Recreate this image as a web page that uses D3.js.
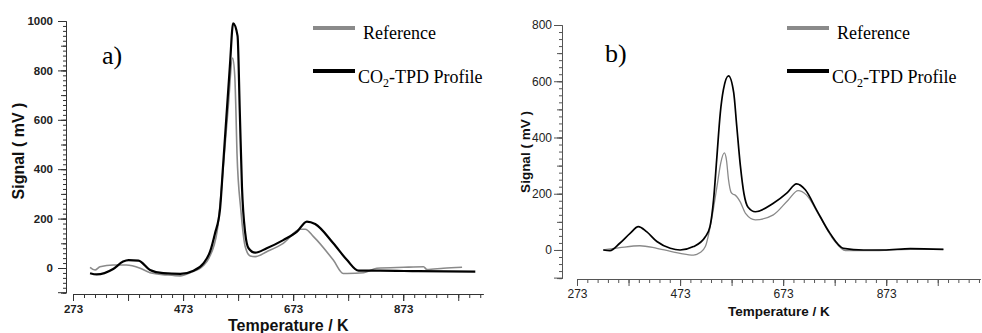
<!DOCTYPE html>
<html>
<head>
<meta charset="utf-8">
<script src="https://cdn.jsdelivr.net/npm/d3@7"></script>
<style>
  body { margin: 0; background: #fff; }
  svg { display: block; }
</style>
</head>
<body>
<svg id="chart" width="982" height="333"></svg>
<script>
// panel a) data, [temperature K, signal mV]
const refA = [
  [304, 3], [313, -8], [322, 5], [346, 12], [370, 12], [395, -1], [413, -19], [443, -28],
  [468, -32], [486, -19], [509, 8], [520, 40], [535, 150], [545, 380], [555, 650], [563, 850],
  [567, 775], [569, 640], [571, 464], [578, 235], [586, 86], [595, 49], [604, 46], [625, 66],
  [655, 100], [686, 157], [695, 157], [710, 127], [746, 32], [764, -22], [771, -22], [801, -19],
  [825, -1], [874, 3], [910, 5], [916, -6], [946, -1], [980, 3]
];
const tpdA = [
  [304, -21], [316, -26], [346, -4], [364, 26], [374, 32], [392, 30], [413, -8], [437, -21],
  [468, -24], [492, -11], [510, 19], [522, 66], [531, 140], [540, 235], [546, 424], [558, 815],
  [564, 990], [572, 940], [576, 640], [580, 330], [586, 140], [592, 80], [604, 62], [625, 80],
  [655, 113], [680, 147], [698, 188], [713, 178], [746, 100], [771, 32], [792, -11], [831, -11],
  [900, -13], [1004, -15]
];
// panel b)
const refB = [
  [324, 0], [356, 8], [395, 15], [428, 6], [473, -12], [499, -18], [512, -9], [522, 12],
  [534, 107], [545, 230], [552, 310], [559, 345], [563, 320], [567, 250], [572, 205], [576, 198],
  [580, 195], [590, 170], [600, 130], [619, 107], [654, 125], [683, 178], [702, 211], [718, 196],
  [744, 119], [771, 36], [794, -2], [843, -2], [920, 2], [984, 2]
];
const tpdB = [
  [324, 0], [337, -2], [356, 24], [376, 59], [392, 83], [408, 65], [428, 30], [454, 6],
  [473, 0], [499, 12], [522, 47], [531, 83], [538, 178], [544, 320], [551, 486], [557, 569],
  [567, 619], [577, 560], [583, 440], [590, 300], [597, 200], [605, 152], [619, 136], [654, 166],
  [680, 202], [699, 235], [716, 214], [738, 142], [764, 59], [790, 6], [829, 0], [868, 0],
  [920, 5], [984, 2]
];

const xTickLabels = [273, 473, 673, 873];
const legendNames = ["Reference", "CO2-TPD Profile"];
const seriesColors = ["#8a8a8a", "#000"];

const svg = d3.select("#chart");

function drawPanel(p) {
  const g = svg.append("g");
  const x = d3.scaleLinear().domain(p.xDomain).range(p.xRange);
  const y = d3.scaleLinear().domain(p.yDomain).range(p.yRange);

  // y axis: minor, medium, major ticks
  const yAll = d3.range(p.yDomain[0], p.yDomain[1] + 0.1, p.yMinor);
  const yAxisG = g.append("g").attr("transform", `translate(${p.yAxisX},0)`);
  yAxisG.append("g")
    .call(d3.axisLeft(y).tickValues(yAll).tickSize(3).tickSizeOuter(0).tickFormat(""));
  yAxisG.append("g")
    .call(d3.axisLeft(y).tickValues(yAll.filter(v => v % 100 === 0)).tickSize(5).tickSizeOuter(0).tickFormat(""));
  yAxisG.append("g")
    .call(d3.axisLeft(y).tickValues(yAll.filter(v => v % 200 === 0 && v >= 0)).tickSize(8).tickPadding(p.yPad).tickSizeOuter(0).tickFormat(d3.format("d")));
  yAxisG.selectAll("path.domain").attr("stroke", p.axisColor);
  yAxisG.selectAll("line").attr("stroke", p.axisColor);
  yAxisG.append("line").attr("x1", -8).attr("x2", 0)
    .attr("y1", y(p.yDomain[0])).attr("y2", y(p.yDomain[0])).attr("stroke", p.axisColor);

  // x axis
  const xAll = d3.range(273, p.xDomain[1], 20);
  const xAxisG = g.append("g").attr("transform", `translate(0,${p.xAxisY})`);
  xAxisG.append("g")
    .call(d3.axisBottom(x).tickValues(xAll).tickSize(4).tickSizeOuter(0).tickFormat(""));
  xAxisG.append("g")
    .call(d3.axisBottom(x).tickValues(xAll.filter(v => (v - 273) % 100 === 0)).tickSize(7).tickSizeOuter(0).tickFormat(""));
  xAxisG.append("g")
    .call(d3.axisBottom(x).tickValues(xTickLabels).tickSize(7).tickPadding(p.xPad).tickSizeOuter(0));
  xAxisG.selectAll("path.domain").attr("stroke", p.axisColor);
  xAxisG.selectAll("line").attr("stroke", p.axisColor);

  g.selectAll(".tick text")
    .attr("font-family", "Liberation Sans, Arial, sans-serif")
    .attr("font-size", p.tickFont)
    .attr("font-weight", p.tickWeight)
    .attr("fill", "#222");

  // titles
  g.append("text")
    .attr("transform", `translate(${p.yTitle[0]},${p.yTitle[1]}) rotate(-90)`)
    .attr("text-anchor", "middle")
    .attr("font-family", "Liberation Sans, Arial, sans-serif")
    .attr("font-weight", "bold")
    .attr("font-size", p.titleFont)
    .attr("fill", "#111")
    .text("Signal ( mV )");
  g.append("text")
    .attr("x", p.xTitle[0]).attr("y", p.xTitle[1])
    .attr("font-family", "Liberation Sans, Arial, sans-serif")
    .attr("font-weight", "bold")
    .attr("font-size", p.titleFont)
    .attr("fill", "#111")
    .text("Temperature / K");

  // curves
  const line = d3.line().x(d => x(d[0])).y(d => y(d[1])).curve(d3.curveMonotoneX);
  [p.ref, p.tpd].forEach((data, i) => {
    g.append("path")
      .datum(data)
      .attr("fill", "none")
      .attr("stroke", seriesColors[i])
      .attr("stroke-width", p.lineWidths[i])
      .attr("stroke-linejoin", "round")
      .attr("d", line);
  });

  // panel letter
  g.append("text")
    .attr("x", p.letterPos[0]).attr("y", p.letterPos[1])
    .attr("font-family", "Liberation Serif, Times New Roman, serif")
    .attr("font-size", 26)
    .text(p.letter);

  // legend
  const lg = g.append("g").attr("font-family", "Liberation Serif, Times New Roman, serif").attr("font-size", 18);
  legendNames.forEach((name, i) => {
    const yy = p.legend[1] + i * 43;
    lg.append("rect")
      .attr("x", p.legend[0]).attr("y", yy - 2)
      .attr("width", 42).attr("height", 4)
      .attr("fill", seriesColors[i]);
    const t = lg.append("text")
      .attr("x", p.legend[0] + (i === 0 ? 50 : 45))
      .attr("y", yy + (i === 0 ? 11 : 12));
    if (i === 0) {
      t.text(name);
    } else {
      t.append("tspan").text("CO");
      t.append("tspan").attr("font-size", 12).attr("dy", 4).text("2");
      t.append("tspan").attr("dy", -4).text("-TPD Profile");
    }
  });
}

drawPanel({
  ref: refA, tpd: tpdA, letter: "a)", letterPos: [102, 64],
  xDomain: [273, 1018], xRange: [73, 483], xAxisY: 294,
  yDomain: [-100, 1000], yRange: [292.7, 21], yAxisX: 66, yMinor: 20,
  axisColor: "#333", tickFont: 11.5, tickWeight: "bold", yPad: 5, xPad: 4,
  titleFont: 16, yTitle: [24, 151], xTitle: [228, 331],
  lineWidths: [1.6, 2.2], legend: [313, 28]
});

drawPanel({
  ref: refB, tpd: tpdB, letter: "b)", letterPos: [605, 62],
  xDomain: [273, 1055], xRange: [577, 980], xAxisY: 279,
  yDomain: [-100, 800], yRange: [278.1, 25], yAxisX: 562, yMinor: 25,
  axisColor: "#555", tickFont: 12, tickWeight: "normal", yPad: 2, xPad: 3,
  titleFont: 13.5, yTitle: [530, 152], xTitle: [728, 316],
  lineWidths: [1.3, 1.7], legend: [787, 28]
});
</script>
</body>
</html>
